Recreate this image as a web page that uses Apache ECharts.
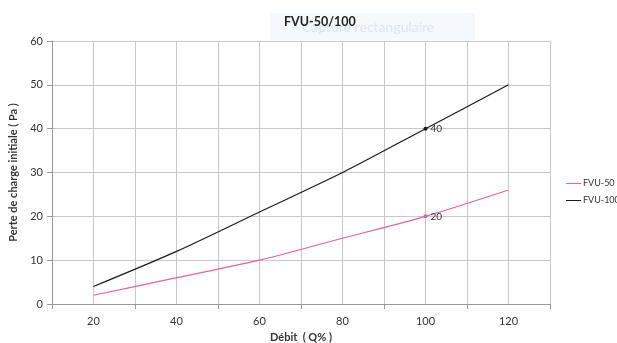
<!DOCTYPE html>
<html><head><meta charset="utf-8">
<script src="https://cdn.jsdelivr.net/npm/echarts@6/dist/echarts.min.js"></script>
<style>html,body{margin:0;padding:0;background:#fff}#c{width:617px;height:343px}</style>
</head><body><div id="c"></div>
<script>
const debit = [20, 40, 60, 80, 100, 120];
const fvu50 = [2, 6, 10, 15, 20, 26];
const fvu100 = [4, 12, 21, 30, 40, 50];
const labelAt = 100;
const yTicks = [0, 10, 20, 30, 40, 50, 60];
const xLabels = [20, 40, 60, 80, 100, 120];

function build(vals) {
  return debit.map((d, i) => {
    if (d === labelAt) {
      return {value: [d, vals[i]], symbol: 'circle', symbolSize: 4,
        label: {show: true, position: 'right', distance: 3, formatter: String(vals[i]), color: '#333', fontSize: 10, fontFamily: 'Lato'}};
    }
    return {value: [d, vals[i]], symbol: 'none'};
  });
}
const chart = echarts.init(document.getElementById('c'), null, {renderer: 'canvas'});
const F = 'Lato';
chart.setOption({
  animation: false,
  title: {text: 'FVU-50/100', left: 279, top: 10, textStyle: {fontFamily: F, fontWeight: 'bold', fontSize: 12.5, color: '#222'}},
  graphic: [
    {type: 'rect', shape: {x: 270, y: 13, width: 205, height: 27}, style: {fill: 'rgba(225,235,248,0.35)'}, z: 0},
    {type: 'text', left: 302, top: 20, style: {text: 'Capture rectangulaire', fill: 'rgba(190,205,225,0.45)', font: '14px Lato'}, z: 1}
  ],
  legend: {
    orient: 'vertical', left: 566, top: 179, width: 100, height: 40, padding: 0,
    itemGap: 8, itemWidth: 15, itemHeight: 8,
    icon: 'path://M0,4L15,4L15,5L0,5Z',
    textStyle: {fontFamily: F, fontSize: 9, color: '#333', padding: [0, 0, 0, -3], overflow: 'none'},
    data: ['FVU-50', 'FVU-100']
  },
  grid: {left: 52, right: 67, top: 41, bottom: 39, outerBoundsMode: 'none', containLabel: false},
  xAxis: [{
    type: 'value', min: 10, max: 130, interval: 10,
    name: 'Débit  ( Q% )', nameLocation: 'middle', nameGap: 26,
    nameTextStyle: {fontFamily: F, fontWeight: 'bold', fontSize: 11, color: '#333'},
    axisLine: {show: true, lineStyle: {color: '#999'}},
    axisTick: {show: false},
    axisLabel: {fontFamily: F, fontSize: 11, color: '#333', margin: 12,
      formatter: v => xLabels.includes(v) ? String(v) : ''},
    splitLine: {show: true, lineStyle: {color: '#c8c8c8'}}
  }, {
    type: 'value', min: 10, max: 130, interval: 20, position: 'bottom',
    axisLine: {show: false}, axisLabel: {show: false}, splitLine: {show: false},
    axisTick: {show: true, inside: false, length: 5, lineStyle: {color: '#999'}}
  }],
  yAxis: {
    type: 'value', min: 0, max: 60, interval: 10,
    name: 'Perte de charge initiale ( Pa )', nameLocation: 'middle', nameGap: 33,
    nameTextStyle: {fontFamily: F, fontWeight: 'bold', fontSize: 11, color: '#333'},
    axisLine: {show: true, lineStyle: {color: '#999'}},
    axisTick: {show: true, length: 5, lineStyle: {color: '#999'}},
    axisLabel: {fontFamily: F, fontSize: 11, color: '#333', margin: 9,
      formatter: v => yTicks.includes(v) ? String(v) : ''},
    splitLine: {show: true, lineStyle: {color: '#c8c8c8'}}
  },
  series: [
    {name: 'FVU-50', type: 'line', smooth: 0.3, data: build(fvu50), color: '#e8609a',
      lineStyle: {width: 1.2, color: '#e8609a'}, itemStyle: {color: '#e8609a'}},
    {name: 'FVU-100', type: 'line', smooth: 0.3, data: build(fvu100), color: '#1a1a1a',
      lineStyle: {width: 1.2, color: '#1a1a1a'}, itemStyle: {color: '#1a1a1a'}}
  ]
});
</script></body></html>
